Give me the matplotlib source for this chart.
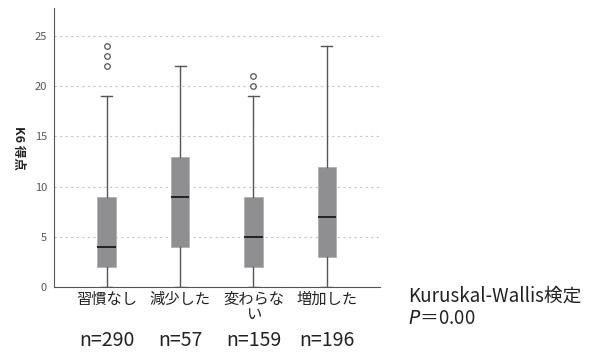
import matplotlib.pyplot as plt

plt.rcParams['font.family'] = ['Noto Sans CJK JP', 'DejaVu Sans']

groups = ['習慣なし', '減少した', '変わらな\nい', '増加した']
counts = ['n=290', 'n=57', 'n=159', 'n=196']
whislo = [0, 0, 0, 0]
q1 = [2, 4, 2, 3]
med = [4, 9, 5, 7]
q3 = [9, 13, 9, 12]
whishi = [19, 22, 19, 24]
fliers = [[22, 23, 24], [], [20, 21], []]

stats = []
for i in range(len(groups)):
    stats.append(dict(whislo=whislo[i], q1=q1[i], med=med[i], q3=q3[i],
                      whishi=whishi[i], fliers=fliers[i]))

fig = plt.figure(figsize=(5.98, 3.52), dpi=100)
ax = fig.add_axes([0.090, 0.185, 0.545, 0.792])

ax.bxp(stats, positions=[1, 2, 3, 4], widths=0.25, patch_artist=True,
       boxprops=dict(facecolor='#8f8f92', edgecolor='#b0b0b0', linewidth=0.6),
       medianprops=dict(color='#222222', linewidth=1.4),
       whiskerprops=dict(color='#555555', linewidth=1.0),
       capprops=dict(color='#555555', linewidth=1.0),
       capwidths=0.15,
       flierprops=dict(marker='o', markersize=4, markerfacecolor='none',
                       markeredgecolor='#555555', markeredgewidth=0.9))

ax.set_xlim(0.28, 4.72)
ax.set_ylim(0, 27.8)
ax.set_yticks([0, 5, 10, 15, 20, 25])
ax.yaxis.grid(True, linestyle=(0, (2, 3)), color='#c4c4c4', linewidth=0.8)
ax.set_axisbelow(True)

for s in ['top', 'right']:
    ax.spines[s].set_visible(False)
ax.spines['left'].set_color('#555555')
ax.spines['bottom'].set_color('#555555')

ax.tick_params(axis='y', length=0, labelsize=8, labelcolor='#555555', pad=5)
ax.tick_params(axis='x', length=0, pad=3)
ax.set_xticks([1, 2, 3, 4])
ax.set_xticklabels(groups, fontsize=11, color='#222222', linespacing=0.8)

ax.set_ylabel('K6 得点', rotation=270, fontsize=9, fontweight='bold',
              labelpad=16, color='#222222')

for i, c in enumerate(counts):
    fig.text((i + 1 - 0.28) / 4.44 * 0.545 + 0.090, 1 - 340 / 352, c,
             ha='center', va='center', fontsize=14, color='#222222')

fig.text(408 / 598, 1 - 296 / 352, 'Kuruskal-Wallis検定', ha='left',
         va='center', fontsize=13.5, color='#222222')
fig.text(408 / 598, 1 - 319 / 352, '$P$＝0.00', ha='left',
         va='center', fontsize=13.5, color='#222222')

fig.savefig('out.png', dpi=100)
